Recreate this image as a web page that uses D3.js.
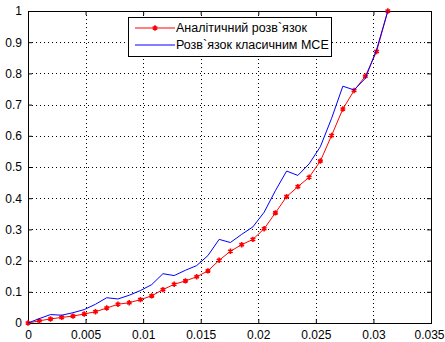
<!DOCTYPE html>
<html>
<head>
<meta charset="utf-8">
<script src="https://cdn.jsdelivr.net/npm/d3@7"></script>
<style>
  body { margin: 0; background: #fff; }
  text { font-family: Arial, "Liberation Sans", sans-serif; font-size: 12px; }
</style>
</head>
<body>
<script>
// дані: x = i/1024, i = 0..32
var xs = d3.range(33).map(function (i) { return i / 1024; });
var analytic = [0, 0.007, 0.013, 0.018, 0.022, 0.029, 0.036, 0.048, 0.060, 0.065,
  0.075, 0.087, 0.107, 0.124, 0.135, 0.148, 0.167, 0.201, 0.230, 0.251,
  0.268, 0.302, 0.353, 0.405, 0.437, 0.467, 0.519, 0.601, 0.686, 0.745,
  0.791, 0.870, 1.0];
var mce = [0, 0.014, 0.027, 0.025, 0.033, 0.043, 0.060, 0.081, 0.077, 0.089,
  0.104, 0.123, 0.158, 0.152, 0.169, 0.184, 0.216, 0.268, 0.258, 0.284,
  0.308, 0.355, 0.424, 0.487, 0.473, 0.510, 0.565, 0.656, 0.759, 0.747,
  0.784, 0.876, 1.0];
var xTicks = [0, 0.005, 0.01, 0.015, 0.02, 0.025, 0.03, 0.035];
var yTicks = [0, 0.1, 0.2, 0.3, 0.4, 0.5, 0.6, 0.7, 0.8, 0.9, 1];
var legendLabels = ["Аналітичний розв`язок", "Розв`язок класичним МСЕ"];

function draw() {
  var svg = d3.select("body").append("svg")
    .attr("width", 445)
    .attr("height", 342);

  var left = 28, right = 431, top = 11, bottom = 323;

  var x = d3.scaleLinear().domain([0, 0.035]).range([left, right]);
  var y = d3.scaleLinear().domain([0, 1]).range([bottom, top]);

  // сітка
  var grid = svg.append("g");
  grid.selectAll("line.gx").data(xTicks.slice(1, -1)).enter().append("line")
    .attr("x1", function (d) { return Math.round(x(d)) + 0.5; })
    .attr("x2", function (d) { return Math.round(x(d)) + 0.5; })
    .attr("y1", top).attr("y2", bottom)
    .attr("stroke", "#000").attr("stroke-width", 1)
    .attr("stroke-dasharray", "1,3");
  grid.selectAll("line.gy").data(yTicks.slice(1, -1)).enter().append("line")
    .attr("y1", function (d) { return Math.round(y(d)) + 0.5; })
    .attr("y2", function (d) { return Math.round(y(d)) + 0.5; })
    .attr("x1", left).attr("x2", right)
    .attr("stroke", "#000").attr("stroke-width", 1)
    .attr("stroke-dasharray", "1,3");

  // осі
  var xAxis = d3.axisBottom(x).tickValues(xTicks).tickSizeInner(-4).tickSizeOuter(0)
    .tickPadding(7).tickFormat(function (d) { return d3.format("")(+d.toFixed(3)); });
  var yAxis = d3.axisLeft(y).tickValues(yTicks).tickSizeInner(-4).tickSizeOuter(0)
    .tickPadding(7).tickFormat(function (d) { return d3.format("")(+d.toFixed(1)); });

  var gx = svg.append("g").attr("transform", "translate(0," + bottom + ")").call(xAxis);
  var gy = svg.append("g").attr("transform", "translate(" + left + ",0)").call(yAxis);
  [gx, gy].forEach(function (g) {
    g.select(".domain").remove();
    g.selectAll("text").attr("fill", "#000").style("font-size", "12px")
      .style("font-family", "Arial, 'Liberation Sans', sans-serif");
    g.selectAll("line").attr("stroke", "#000");
  });
  gy.selectAll("text").attr("x", -6);
  // останню мітку притиснути до краю
  gx.selectAll(".tick text").filter(function (d) { return d === 0.035; })
    .attr("text-anchor", "end").attr("x", 13);
  // дзеркальні тики зверху і справа
  svg.append("g").attr("transform", "translate(0," + top + ")")
    .call(d3.axisTop(x).tickValues(xTicks).tickSizeInner(-4).tickSizeOuter(0).tickFormat(""))
    .select(".domain").remove();
  svg.append("g").attr("transform", "translate(" + right + ",0)")
    .call(d3.axisRight(y).tickValues(yTicks).tickSizeInner(-4).tickSizeOuter(0).tickFormat(""))
    .select(".domain").remove();

  // рамка
  svg.append("rect")
    .attr("x", left + 0.5).attr("y", top + 0.5)
    .attr("width", right - left).attr("height", bottom - top)
    .attr("fill", "none").attr("stroke", "#000").attr("stroke-width", 1);

  var line = d3.line()
    .x(function (d, i) { return x(xs[i]); })
    .y(function (d) { return y(d); });

  // аналітичний розв'язок
  svg.append("path")
    .attr("d", line(analytic))
    .attr("fill", "none").attr("stroke", "#ff0000").attr("stroke-width", 1);
  var star = d3.symbol().type(d3.symbolAsterisk).size(20);
  svg.append("g").selectAll("path").data(analytic).enter().append("path")
    .attr("d", star)
    .attr("transform", function (d, i) { return "translate(" + x(xs[i]) + "," + y(d) + ")"; })
    .attr("fill", "none").attr("stroke", "#ff0000").attr("stroke-width", 1.6);

  // МСЕ
  svg.append("path")
    .attr("d", line(mce))
    .attr("fill", "none").attr("stroke", "#0000ff").attr("stroke-width", 1);

  // легенда
  var lg = svg.append("g").attr("transform", "translate(128,17)");
  lg.append("rect")
    .attr("x", 0.5).attr("y", 0.5).attr("width", 203).attr("height", 39)
    .attr("fill", "#fff").attr("stroke", "#000").attr("stroke-width", 1);
  lg.append("line").attr("x1", 7).attr("x2", 47).attr("y1", 11).attr("y2", 11)
    .attr("stroke", "#ff0000").attr("stroke-width", 1);
  lg.append("path").attr("d", star).attr("transform", "translate(27,11)")
    .attr("fill", "none").attr("stroke", "#ff0000").attr("stroke-width", 1.6);
  lg.append("line").attr("x1", 7).attr("x2", 47).attr("y1", 28).attr("y2", 28)
    .attr("stroke", "#0000ff").attr("stroke-width", 1);
  lg.selectAll("text").data(legendLabels).enter().append("text")
    .attr("x", 48).attr("y", function (d, i) { return 15 + i * 17; })
    .attr("fill", "#000")
    .style("font-size", "12.5px")
    .text(function (d) { return d; });
}

draw();
</script>
</body>
</html>
